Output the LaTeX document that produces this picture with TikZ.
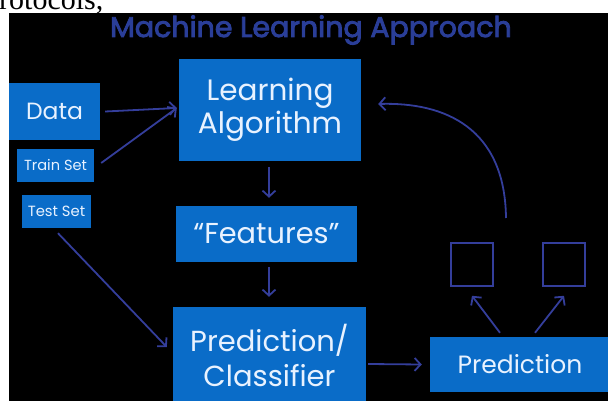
\documentclass[tikz,border=0pt]{standalone}
\usepackage{fontspec}
\setmainfont{Poppins}
\newfontfamily\docserif{Liberation Serif}
\newfontfamily\titlefont{Poppins}[FakeBold=3]
\usetikzlibrary{arrows.meta}
\definecolor{boxblue}{RGB}{10,108,200}
\definecolor{txtwhite}{RGB}{232,242,255}
\definecolor{arrblue}{RGB}{52,62,155}
\definecolor{titleblue}{RGB}{42,62,152}
\tikzset{
  box/.style={fill=boxblue, draw=none, inner sep=0pt, text=txtwhite, align=center},
  sq/.style={draw=arrblue, line width=1.6pt, inner sep=0pt, minimum width=42pt, minimum height=43pt},
  arr/.style={draw=arrblue, line width=1.8pt, -{Straight Barb[length=6pt,width=13pt,line width=1.8pt]}},
}
\begin{document}
\begin{tikzpicture}[x=1pt,y=-1pt]
\useasboundingbox (0,0) rectangle (608,401);
\clip (0,0) rectangle (608,401);
\fill[white] (0,0) rectangle (608,401);
\node[anchor=base west, inner sep=0pt, font=\docserif\fontsize{30}{30}\selectfont] (doc) at (-1,10) {rotocols,};
\fill[black] (9,13) rectangle (612,405);
\node[anchor=base, inner sep=0pt, text=titleblue, font=\titlefont\fontsize{28.5}{28.5}\selectfont] (title) at (311,37) {Machine Learning Approach};
% boxes
\node[box, minimum width=91pt, minimum height=57pt, font=\fontsize{23.5}{23.5}\selectfont] (data) at (54.5,111.5) {Data};
\node[box, minimum width=77pt, minimum height=33pt, font=\fontsize{14.6}{14.6}\selectfont] (train) at (55.5,165.5) {Train Set};
\node[box, minimum width=69pt, minimum height=33pt, font=\fontsize{14.8}{14.8}\selectfont] (test) at (56.5,211.5) {Test Set};
\node[box, minimum width=182pt, minimum height=102pt, font=\fontsize{29.5}{33}\selectfont] (learn) at (270,110) {Learning\\Algorithm};
\node[box, minimum width=181pt, minimum height=56pt, font=\fontsize{28.8}{28.8}\selectfont] (feat) at (266.5,234) {“Features”};
\node[box, minimum width=193pt, minimum height=96pt, font=\fontsize{29}{35}\selectfont] (class) at (269.5,355) {Prediction/\\Classifier};
\node[box, minimum width=180pt, minimum height=55pt, font=\fontsize{25}{25}\selectfont] (pred) at (520,364.5) {Prediction};
\node[sq] (sqa) at (472,264.5) {};
\node[sq] (sqb) at (564,264.5) {};
\coordinate (fb) at (506,218);
% connectors
\draw[arr] ([xshift=5pt,yshift=0pt]data.east) -- ([xshift=-2pt,yshift=2pt]learn.west);
\draw[arr] ([xshift=7pt,yshift=2.5pt]train.east) -- ([xshift=-2pt,yshift=2pt]learn.west);
\draw[arr] ([xshift=-1pt,yshift=-6pt]learn.south) -- ([xshift=2.5pt,yshift=8pt]feat.north);
\draw[arr] ([xshift=2.5pt,yshift=-5pt]feat.south) -- ([xshift=-0.5pt,yshift=10pt]class.north);
\draw[arr] ([xshift=1.5pt,yshift=-5pt]test.south) -- ([xshift=-6pt,yshift=8pt]class.west);
\draw[arr] ([xshift=2pt,yshift=-9pt]class.east) -- ([xshift=-8pt,yshift=0pt]pred.west);
\draw[arr] ([xshift=-20pt,yshift=4pt]pred.north) -- ([yshift=-9pt]sqa.south);
\draw[arr] ([xshift=15pt,yshift=4pt]pred.north) -- ([yshift=-9pt]sqb.south);
\draw[arr] (fb) .. controls (505,128) and (445,102) .. ([xshift=17pt,yshift=6pt]learn.east);
\end{tikzpicture}
\end{document}
